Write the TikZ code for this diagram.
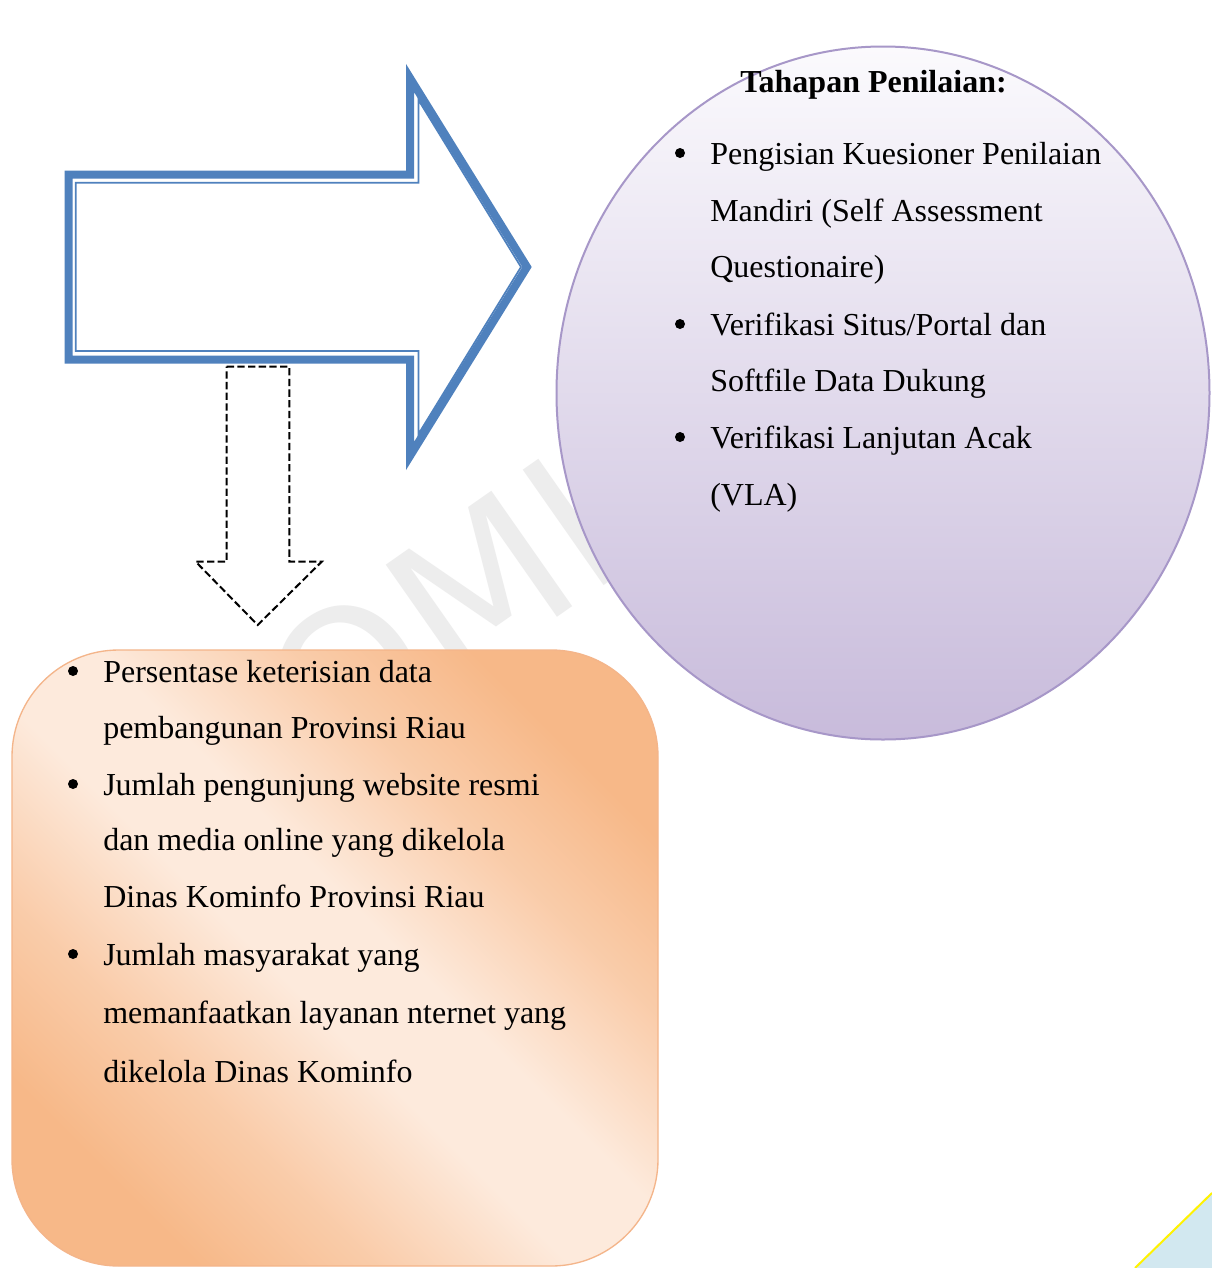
\documentclass[tikz,border=0pt]{standalone}
\usepackage{fontspec}
\setmainfont{Liberation Serif}
\newfontfamily\wmfont{DejaVu Sans}
\usetikzlibrary{shapes.geometric}
\definecolor{arrowblue}{HTML}{4F81BD}
\definecolor{circborder}{HTML}{A797C8}
\definecolor{circtop}{HTML}{FBFAFD}
\definecolor{circbot}{HTML}{C8BBDB}
\definecolor{boxorange}{HTML}{F7B888}
\definecolor{boxlight}{HTML}{FDEADC}
\definecolor{boxborder}{HTML}{F4B58A}
\definecolor{cornerblue}{HTML}{D2E8F0}
\definecolor{corneryellow}{HTML}{FFF200}
\colorlet{boxmid}{boxorange!60!boxlight}
\pgfdeclareverticalshading{boxshade}{100bp}{color(0bp)=(boxorange); color(25bp)=(boxorange); color(35bp)=(boxmid); color(46bp)=(boxlight); color(54bp)=(boxlight); color(65bp)=(boxmid); color(75bp)=(boxorange); color(100bp)=(boxorange)}
\begin{document}
\begin{tikzpicture}[x=0.75pt,y=-0.75pt,
  txt/.style={anchor=base west, inner sep=0pt, font=\fontsize{24}{28}\selectfont},
  dot/.style={circle, fill=black, inner sep=0pt, minimum size=7.5pt},
  blockthick/.style={draw=arrowblue, line width=6pt, miter limit=10},
  blockthin/.style={draw=arrowblue, line width=1.3pt, miter limit=10},
  dasharrow/.style={draw=black, line width=1.5pt, dash pattern=on 5.5pt off 2.5pt}]
\useasboundingbox (0,0) rectangle (1212,1268);
\fill[white] (0,0) rectangle (1212,1268);

% watermark
\node[rotate=35, text=black!7, font=\wmfont\fontsize{145}{150}\selectfont, inner sep=0pt] (wm) at (560,530) {KOMINFO};

% blue block arrow (double outline)
\draw[blockthick] (68.5,174.5) -- (410,174.5) -- (410,78) -- (527,267) -- (410,456) -- (410,359.5) -- (68.5,359.5) -- cycle;
\draw[blockthin] (75.7,182.7) -- (418.5,182.7) -- (418.5,100) -- (521,267) -- (418.5,434) -- (418.5,351) -- (75.7,351) -- cycle;

% dashed down arrow
\draw[dasharrow] (226.7,366.7) -- (289.3,366.7) -- (289.3,561.7) -- (321.7,561.7) -- (257.7,625) -- (195.7,561.7) -- (226.7,561.7) -- cycle;

% circle
\node[ellipse, draw=circborder, line width=1.5pt, top color=circtop, bottom color=circbot,
      minimum width=489.75pt, minimum height=519.75pt, inner sep=0pt] (circ) at (883,393) {};

% rounded box
\node[draw=boxborder, line width=1pt, rounded corners=80pt,
      shading=boxshade, shading angle=-45,
      minimum width=484.5pt, minimum height=462pt, inner sep=0pt] (box) at (335,958) {};

% corner triangle
\fill[cornerblue] (1135,1268) -- (1212,1193) -- (1212,1268) -- cycle;
\coordinate (ya) at (1135,1268);
\coordinate (yb) at (1212,1193);
\draw[corneryellow, line width=1.5pt] (ya) -- (yb);

% circle texts
\node[txt, font=\fontsize{24}{28}\selectfont\bfseries] (title) at (740,92) {Tahapan Penilaian:};
\node[dot] (cb1) at (680,153) {};
\node[txt] (c1) at (710,164) {Pengisian Kuesioner Penilaian};
\node[txt] (c2) at (710,221) {Mandiri (Self Assessment};
\node[txt] (c3) at (710,277) {Questionaire)};
\node[dot] (cb2) at (680,324) {};
\node[txt] (c4) at (710,335) {Verifikasi Situs/Portal dan};
\node[txt] (c5) at (710,391) {Softfile Data Dukung};
\node[dot] (cb3) at (680,437) {};
\node[txt] (c6) at (710,448) {Verifikasi Lanjutan Acak};
\node[txt] (c7) at (710,505) {(VLA)};

% box texts
\node[dot] (bb1) at (73,671) {};
\node[txt] (b1) at (103,682) {Persentase keterisian data};
\node[txt] (b2) at (103,738) {pembangunan Provinsi Riau};
\node[dot] (bb2) at (73,784) {};
\node[txt] (b3) at (103,795) {Jumlah pengunjung website resmi};
\node[txt] (b4) at (103,850) {dan media online yang dikelola};
\node[txt] (b5) at (103,907) {Dinas Kominfo Provinsi Riau};
\node[dot] (bb3) at (73,954) {};
\node[txt] (b6) at (103,965) {Jumlah masyarakat yang};
\node[txt] (b7) at (103,1023) {memanfaatkan layanan nternet yang};
\node[txt] (b8) at (103,1082) {dikelola Dinas Kominfo};
\end{tikzpicture}
\end{document}
